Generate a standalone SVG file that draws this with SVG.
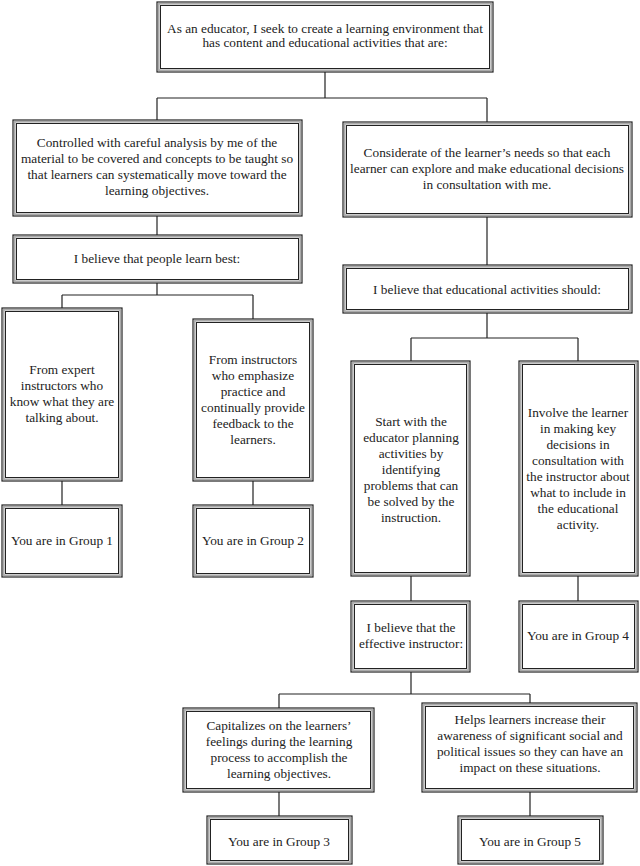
<svg xmlns="http://www.w3.org/2000/svg" width="640" height="866" viewBox="0 0 640 866">
<style>
.o{fill:#fff;stroke:#222;stroke-width:1.2}
.m{fill:none;stroke:#aaa;stroke-width:1.6}
.i{fill:none;stroke:#222;stroke-width:1}
.c{fill:none;stroke:#222;stroke-width:1.2}
text{font-family:"Liberation Serif","Times New Roman",serif;font-size:13.3px;fill:#222;text-anchor:middle}
</style>
<rect width="640" height="866" fill="#fff"/>
<g id="connectors">
<path class="c" d="M325 72V98M157 98H487M157 98V120M487 98V122"/>
<path class="c" d="M157 216V235"/>
<path class="c" d="M157 283V295M62 295H253M62 295V308M253 295V319"/>
<path class="c" d="M62 481V505M253 481V505"/>
<path class="c" d="M487 217V265"/>
<path class="c" d="M487 313V338M411 338H578M411 338V361M578 338V361"/>
<path class="c" d="M411 576V601M578 576V601"/>
<path class="c" d="M411 672V694M279 694H530M279 694V708M530 694V703"/>
<path class="c" d="M279 792V816M530 792V816"/>
</g>
<g id="n0"><rect class="o" x="157" y="2" width="336" height="70"/><rect class="m" x="158.8" y="3.8" width="332.4" height="66.4"/><rect class="i" x="160.5" y="5.5" width="329" height="63"/>
<text x="325" y="33">As an educator, I seek to create a learning environment that</text><text x="325" y="47">has content and educational activities that are:</text></g>
<g id="n1"><rect class="o" x="13" y="120" width="289" height="96"/><rect class="m" x="14.8" y="121.8" width="285.4" height="92.4"/><rect class="i" x="16.5" y="123.5" width="282" height="89"/>
<text x="157" y="147">Controlled with careful analysis by me of the</text><text x="157" y="163">material to be covered and concepts to be taught so</text><text x="157" y="179">that learners can systematically move toward the</text><text x="157" y="195">learning objectives.</text></g>
<g id="n2"><rect class="o" x="343" y="122" width="289" height="95"/><rect class="m" x="344.8" y="123.8" width="285.4" height="91.4"/><rect class="i" x="346.5" y="125.5" width="282" height="88"/>
<text x="487" y="157">Considerate of the learner’s needs so that each</text><text x="487" y="173">learner can explore and make educational decisions</text><text x="487" y="189">in consultation with me.</text></g>
<g id="n3"><rect class="o" x="13" y="235" width="289" height="48"/><rect class="m" x="14.8" y="236.8" width="285.4" height="44.4"/><rect class="i" x="16.5" y="238.5" width="282" height="41"/>
<text x="157" y="263">I believe that people learn best:</text></g>
<g id="n4"><rect class="o" x="343" y="265" width="289" height="48"/><rect class="m" x="344.8" y="266.8" width="285.4" height="44.4"/><rect class="i" x="346.5" y="268.5" width="282" height="41"/>
<text x="487" y="294">I believe that educational activities should:</text></g>
<g id="n5"><rect class="o" x="2" y="308" width="120" height="173"/><rect class="m" x="3.8" y="309.8" width="116.4" height="169.4"/><rect class="i" x="5.5" y="311.5" width="113" height="166"/>
<text x="62" y="374">From expert</text><text x="62" y="390">instructors who</text><text x="62" y="406">know what they are</text><text x="62" y="422">talking about.</text></g>
<g id="n6"><rect class="o" x="193" y="319" width="120" height="162"/><rect class="m" x="194.8" y="320.8" width="116.4" height="158.4"/><rect class="i" x="196.5" y="322.5" width="113" height="155"/>
<text x="253" y="364">From instructors</text><text x="253" y="380">who emphasize</text><text x="253" y="396">practice and</text><text x="253" y="412">continually provide</text><text x="253" y="428">feedback to the</text><text x="253" y="444">learners.</text></g>
<g id="n7"><rect class="o" x="2" y="505" width="120" height="72"/><rect class="m" x="3.8" y="506.8" width="116.4" height="68.4"/><rect class="i" x="5.5" y="508.5" width="113" height="65"/>
<text x="62" y="545">You are in Group 1</text></g>
<g id="n8"><rect class="o" x="193" y="505" width="120" height="72"/><rect class="m" x="194.8" y="506.8" width="116.4" height="68.4"/><rect class="i" x="196.5" y="508.5" width="113" height="65"/>
<text x="253" y="545">You are in Group 2</text></g>
<g id="n9"><rect class="o" x="351" y="361" width="119" height="215"/><rect class="m" x="352.8" y="362.8" width="115.4" height="211.4"/><rect class="i" x="354.5" y="364.5" width="112" height="208"/>
<text x="411" y="426">Start with the</text><text x="411" y="442">educator planning</text><text x="411" y="458">activities by</text><text x="411" y="474">identifying</text><text x="411" y="490">problems that can</text><text x="411" y="506">be solved by the</text><text x="411" y="522">instruction.</text></g>
<g id="n10"><rect class="o" x="519" y="361" width="119" height="215"/><rect class="m" x="520.8" y="362.8" width="115.4" height="211.4"/><rect class="i" x="522.5" y="364.5" width="112" height="208"/>
<text x="578" y="417">Involve the learner</text><text x="578" y="433">in making key</text><text x="578" y="449">decisions in</text><text x="578" y="465">consultation with</text><text x="578" y="481">the instructor about</text><text x="578" y="497">what to include in</text><text x="578" y="513">the educational</text><text x="578" y="529">activity.</text></g>
<g id="n11"><rect class="o" x="351" y="601" width="119" height="71"/><rect class="m" x="352.8" y="602.8" width="115.4" height="67.4"/><rect class="i" x="354.5" y="604.5" width="112" height="64"/>
<text x="411" y="632">I believe that the</text><text x="411" y="648">effective instructor:</text></g>
<g id="n12"><rect class="o" x="519" y="601" width="119" height="71"/><rect class="m" x="520.8" y="602.8" width="115.4" height="67.4"/><rect class="i" x="522.5" y="604.5" width="112" height="64"/>
<text x="578" y="640">You are in Group 4</text></g>
<g id="n13"><rect class="o" x="183" y="708" width="191" height="84"/><rect class="m" x="184.8" y="709.8" width="187.4" height="80.4"/><rect class="i" x="186.5" y="711.5" width="184" height="77"/>
<text x="279" y="730">Capitalizes on the learners’</text><text x="279" y="746">feelings during the learning</text><text x="279" y="762">process to accomplish the</text><text x="279" y="778">learning objectives.</text></g>
<g id="n14"><rect class="o" x="422" y="703" width="215" height="89"/><rect class="m" x="423.8" y="704.8" width="211.4" height="85.4"/><rect class="i" x="425.5" y="706.5" width="208" height="82"/>
<text x="530" y="724">Helps learners increase their</text><text x="530" y="740">awareness of significant social and</text><text x="530" y="756">political issues so they can have an</text><text x="530" y="772">impact on these situations.</text></g>
<g id="n15"><rect class="o" x="207" y="816" width="145" height="48"/><rect class="m" x="208.8" y="817.8" width="141.4" height="44.4"/><rect class="i" x="210.5" y="819.5" width="138" height="41"/>
<text x="279" y="846">You are in Group 3</text></g>
<g id="n16"><rect class="o" x="458" y="816" width="145" height="48"/><rect class="m" x="459.8" y="817.8" width="141.4" height="44.4"/><rect class="i" x="461.5" y="819.5" width="138" height="41"/>
<text x="530" y="846">You are in Group 5</text></g>
</svg>
